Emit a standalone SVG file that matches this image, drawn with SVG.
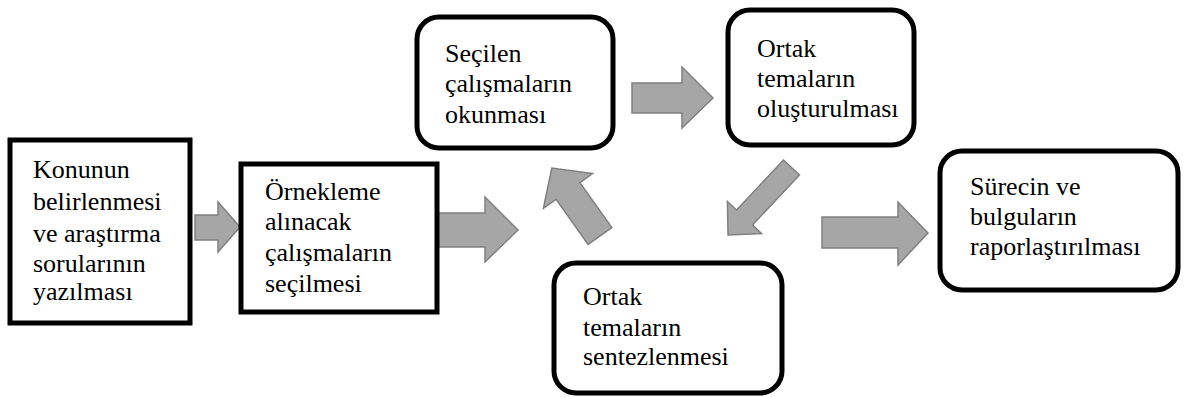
<svg xmlns="http://www.w3.org/2000/svg" width="1187" height="398" viewBox="0 0 1187 398">
<style>
.box{fill:#fff;stroke:#000;stroke-width:5}
.arr{fill:#a6a6a6;stroke:#808080;stroke-width:1.5;stroke-linejoin:miter}
.t{font-family:'Liberation Serif','Times New Roman',serif;font-size:26px;fill:#000}
</style>
<rect width="1187" height="398" fill="#fff"/>
<g id="connectors">
<polygon class="arr" points="195,215 218,215 218,202 240,227 218,252 218,240 195,240"/>
<polygon class="arr" points="438,213 485,213 485,197 518,230 485,262 485,247 438,247"/>
<polygon class="arr" points="632,83 682,83 682,67 713,98 682,128 682,113 632,113"/>
<polygon class="arr" points="822,217 898,217 898,202 928,233 898,265 898,248 822,248"/>
<polygon class="arr" points="611.9,227.6 579.9,182.6 592.6,173.6 551.8,168 543.4,208.4 556.1,199.4 588.1,244.4"/>
<polygon class="arr" points="783.5,160 799.5,175 752.5,225 761.6,233.6 728,235 727.4,201.4 736.5,210"/>
</g>
<g id="n1">
<rect class="box" x="10" y="140" width="180" height="183"/>
<text class="t" x="33" y="178">Konunun</text>
<text class="t" x="33" y="210">belirlenmesi</text>
<text class="t" x="33" y="242">ve araştırma</text>
<text class="t" x="33" y="272">sorularının</text>
<text class="t" x="33" y="300">yazılması</text>
</g>
<g id="n2">
<rect class="box" x="241" y="164" width="196" height="148"/>
<text class="t" x="265" y="200">Örnekleme</text>
<text class="t" x="265" y="230">alınacak</text>
<text class="t" x="265" y="261">çalışmaların</text>
<text class="t" x="265" y="292">seçilmesi</text>
</g>
<g id="n3">
<rect class="box" x="417" y="17" width="196" height="131" rx="22"/>
<text class="t" x="445" y="62">Seçilen</text>
<text class="t" x="445" y="92">çalışmaların</text>
<text class="t" x="445" y="123">okunması</text>
</g>
<g id="n4">
<rect class="box" x="728" y="10" width="186" height="135" rx="22"/>
<text class="t" x="757" y="57">Ortak</text>
<text class="t" x="757" y="87">temaların</text>
<text class="t" x="757" y="117">oluşturulması</text>
</g>
<g id="n5">
<rect class="box" x="554" y="263" width="228" height="130" rx="22"/>
<text class="t" x="583" y="305">Ortak</text>
<text class="t" x="583" y="336">temaların</text>
<text class="t" x="583" y="365">sentezlenmesi</text>
</g>
<g id="n6">
<rect class="box" x="940" y="151" width="238" height="139" rx="22"/>
<text class="t" x="970" y="195">Sürecin ve</text>
<text class="t" x="970" y="225">bulguların</text>
<text class="t" x="970" y="255">raporlaştırılması</text>
</g>
</svg>
